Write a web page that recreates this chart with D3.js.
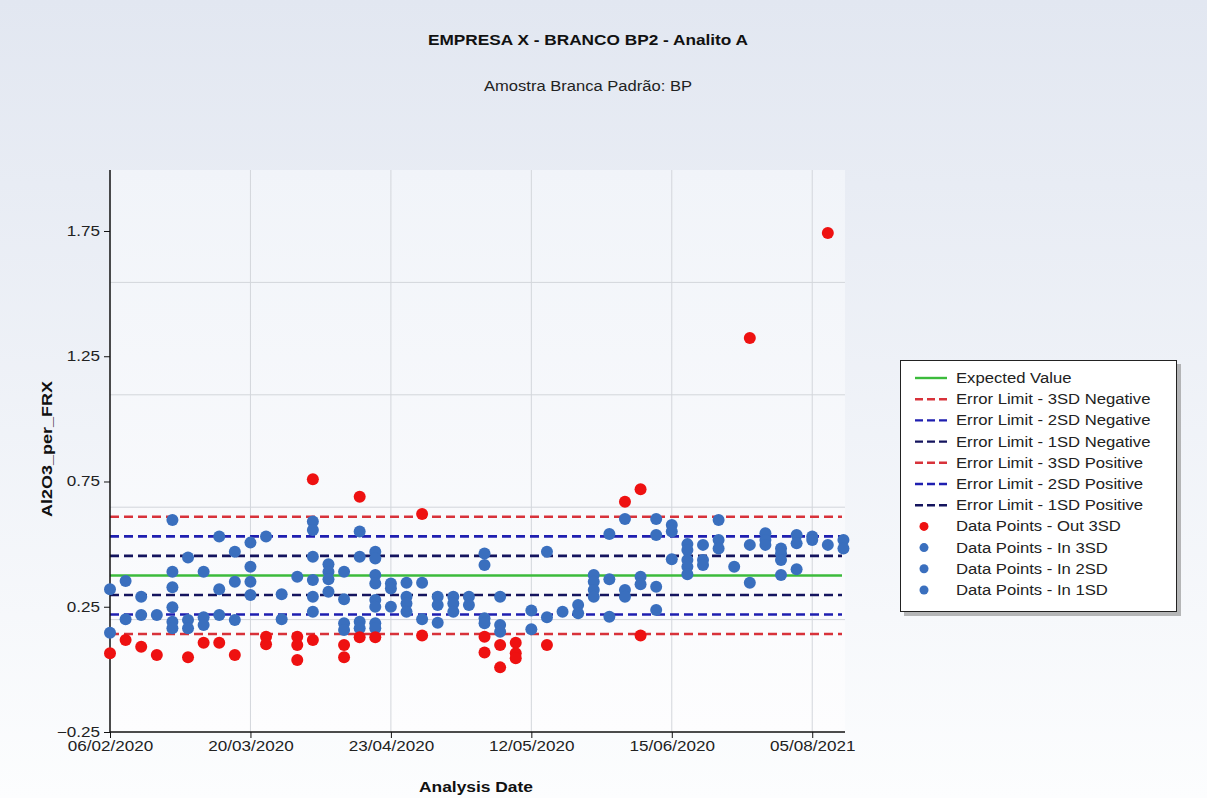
<!DOCTYPE html>
<html><head><meta charset="utf-8">
<script src="https://cdn.jsdelivr.net/npm/d3@7"></script>
<style>html,body{margin:0;padding:0;background:#fff}svg{display:block}</style>
</head><body>
<svg id="c" width="1207" height="798"></svg>
<script>
// ---------- data ----------
const titleText = "EMPRESA X - BRANCO BP2 - Analito A";
const subtitleText = "Amostra Branca Padrão: BP";
const xTitle = "Analysis Date";
const yTitle = "Al2O3_per_FRX";

const tickIndex  = [0, 9, 18, 27, 36, 45];
const tickLabels = ["06/02/2020","20/03/2020","23/04/2020","12/05/2020","15/06/2020","05/08/2021"];
const yTicks = [-0.25, 0.25, 0.75, 1.25, 1.75];

const expectedValue = 0.375;
const limitNames  = ["Error Limit - 3SD Negative","Error Limit - 2SD Negative","Error Limit - 1SD Negative",
                     "Error Limit - 3SD Positive","Error Limit - 2SD Positive","Error Limit - 1SD Positive"];
const limitValues = [0.141, 0.219, 0.297, 0.609, 0.531, 0.453];

// [date index, value] – points outside 3SD
const outPoints = [
 [0,0.064],[1,0.117],[2,0.09],[3,0.057],[5,0.048],[6,0.106],[7,0.106],[8,0.057],
 [10,0.13],[10,0.10],[12,0.13],[12,0.097],[12,0.037],[13,0.759],[13,0.117],
 [15,0.097],[15,0.048],[16,0.689],[16,0.128],[17,0.128],[20,0.62],[20,0.135],
 [24,0.13],[24,0.067],[25,0.097],[25,0.008],[26,0.106],[26,0.064],[26,0.044],
 [28,0.097],[33,0.669],[34,0.719],[34,0.135],[41,1.323],[46,1.742]
];
// [date index, value] – points inside 3SD
const inPoints = [
 [0,0.32],[0,0.146],[1,0.353],[1,0.20],[2,0.29],[2,0.217],[3,0.217],
 [4,0.596],[4,0.39],[4,0.328],[4,0.248],[4,0.19],[4,0.164],
 [5,0.447],[5,0.197],[5,0.164],[6,0.39],[6,0.208],[6,0.177],
 [7,0.53],[7,0.32],[7,0.217],[8,0.47],[8,0.35],[8,0.197],
 [9,0.506],[9,0.41],[9,0.35],[9,0.297],[10,0.53],[11,0.30],[11,0.20],[12,0.37],
 [13,0.59],[13,0.556],[13,0.45],[13,0.357],[13,0.29],[13,0.23],
 [14,0.42],[14,0.39],[14,0.36],[14,0.31],
 [15,0.39],[15,0.28],[15,0.184],[15,0.157],
 [16,0.55],[16,0.45],[16,0.19],[16,0.164],
 [17,0.47],[17,0.443],[17,0.377],[17,0.343],[17,0.277],[17,0.25],[17,0.184],[17,0.164],
 [18,0.343],[18,0.323],[18,0.25],[19,0.346],[19,0.29],[19,0.263],[19,0.23],
 [20,0.346],[20,0.2],[21,0.29],[21,0.257],[21,0.186],[22,0.29],[22,0.263],[22,0.23],
 [23,0.29],[23,0.257],[24,0.463],[24,0.417],[24,0.204],[24,0.184],
 [25,0.29],[25,0.177],[25,0.15],[27,0.235],[27,0.16],[28,0.47],[28,0.208],[29,0.23],
 [30,0.257],[30,0.224],[31,0.377],[31,0.35],[31,0.317],[31,0.29],
 [32,0.54],[32,0.36],[32,0.21],[33,0.60],[33,0.317],[33,0.29],[34,0.37],[34,0.34],
 [35,0.60],[35,0.536],[35,0.33],[35,0.237],[36,0.576],[36,0.55],[36,0.44],
 [37,0.50],[37,0.477],[37,0.437],[37,0.41],[37,0.38],[38,0.497],[38,0.437],[38,0.417],
 [39,0.596],[39,0.516],[39,0.483],[40,0.41],[41,0.497],[41,0.346],
 [42,0.543],[42,0.516],[42,0.497],[43,0.483],[43,0.463],[43,0.437],[43,0.377],
 [44,0.536],[44,0.503],[44,0.40],[45,0.53],[45,0.516],[46,0.497],[47,0.516],[47,0.483]
];

const legendItems = [
 {name:"Expected Value", type:"line", color:"#3cbb3c", dash:null},
 {name:limitNames[0], type:"line", color:"#d8323a", dash:"8,4"},
 {name:limitNames[1], type:"line", color:"#1f1fb0", dash:"8,4"},
 {name:limitNames[2], type:"line", color:"#14145e", dash:"8,4"},
 {name:limitNames[3], type:"line", color:"#d8323a", dash:"8,4"},
 {name:limitNames[4], type:"line", color:"#1f1fb0", dash:"8,4"},
 {name:limitNames[5], type:"line", color:"#14145e", dash:"8,4"},
 {name:"Data Points - Out 3SD", type:"dot", color:"#ee1111"},
 {name:"Data Points - In 3SD", type:"dot", color:"#3a6fbe"},
 {name:"Data Points - In 2SD", type:"dot", color:"#3a6fbe"},
 {name:"Data Points - In 1SD", type:"dot", color:"#3a6fbe"}
];
const limitColors = ["#d8323a","#1f1fb0","#14145e","#d8323a","#1f1fb0","#14145e"];

// ---------- layout ----------
const W = 1207, H = 798;
const L = 110, R = 845, T = 170, B = 732;
const FONT = "'Liberation Sans', Arial, sans-serif";
const svg = d3.select("#c");

const defs = svg.append("defs");
const bg = defs.append("linearGradient").attr("id","bg").attr("x1",0).attr("y1",0).attr("x2",0).attr("y2",1);
bg.append("stop").attr("offset","0").attr("stop-color","#e2e7f1");
bg.append("stop").attr("offset","1").attr("stop-color","#fcfdfe");
const pg = defs.append("linearGradient").attr("id","pg").attr("x1",0).attr("y1",0).attr("x2",0).attr("y2",1);
pg.append("stop").attr("offset","0").attr("stop-color","#f1f4f9");
pg.append("stop").attr("offset","1").attr("stop-color","#fdfdfe");

svg.append("rect").attr("width",W).attr("height",H).attr("fill","url(#bg)");
svg.append("rect").attr("x",L).attr("y",T).attr("width",R-L).attr("height",B-T).attr("fill","url(#pg)");

const x = d3.scaleLinear().domain([0, 47.1]).range([L, R]);
const y = d3.scaleLinear().domain([-0.25, 1.9935]).range([B, T]);

function stretch(sel, k){ sel.each(function(){ const w=this.getComputedTextLength(); d3.select(this).attr("textLength", w*k).attr("lengthAdjust","spacingAndGlyphs"); }); }

// grid
const yd = y.domain(), gstep = (yd[1]-yd[0])/5;
const hGrid = d3.range(1,5).map(i => yd[0] + i*gstep);
svg.append("g").selectAll("line").data(hGrid).join("line")
  .attr("x1",L).attr("x2",R).attr("y1",d=>y(d)).attr("y2",d=>y(d))
  .attr("stroke","#d3d6db").attr("stroke-width",1);
svg.append("g").selectAll("line").data(tickIndex.slice(1)).join("line")
  .attr("x1",d=>x(d)).attr("x2",d=>x(d)).attr("y1",T).attr("y2",B)
  .attr("stroke","#d3d6db").attr("stroke-width",1);

// limit lines
svg.append("g").selectAll("line").data(limitValues).join("line")
  .attr("x1",L).attr("x2",R-3).attr("y1",d=>y(d)).attr("y2",d=>y(d))
  .attr("stroke",(d,i)=>limitColors[i]).attr("stroke-width",2.6).attr("stroke-dasharray","9,5");
svg.append("line").attr("x1",L).attr("x2",R-3).attr("y1",y(expectedValue)).attr("y2",y(expectedValue))
  .attr("stroke","#3cbb3c").attr("stroke-width",2.6);

// axes
const yAxis = svg.append("g").attr("transform",`translate(${L},0)`)
  .call(d3.axisLeft(y).tickValues(yTicks).tickFormat(d3.format(".2f")).tickSize(6).tickPadding(4));
yAxis.select(".domain").attr("d",`M0,${T}V${B}`).attr("stroke","#111").attr("stroke-width",1.5);
yAxis.selectAll(".tick line").attr("stroke","#111");
yAxis.selectAll("text").attr("font-family",FONT).attr("font-size",14).attr("fill","#222").call(stretch,1.22);

const xAxis = svg.append("g").attr("transform",`translate(0,${B})`)
  .call(d3.axisBottom(x).tickValues(tickIndex).tickFormat((d,i)=>tickLabels[i]).tickSize(6).tickPadding(3));
xAxis.select(".domain").attr("d",`M${L},0H${R}`).attr("stroke","#111").attr("stroke-width",1.5);
xAxis.selectAll(".tick line").attr("stroke","#111");
xAxis.selectAll("text").attr("font-family",FONT).attr("font-size",14).attr("fill","#222").call(stretch,1.22);

// points
svg.append("g").selectAll("circle").data(inPoints).join("circle")
  .attr("cx",d=>x(d[0])).attr("cy",d=>y(d[1])).attr("r",6).attr("fill","#3a6fbe");
svg.append("g").selectAll("circle").data(outPoints).join("circle")
  .attr("cx",d=>x(d[0])).attr("cy",d=>y(d[1])).attr("r",6).attr("fill","#ee1111");

// titles
svg.append("text").attr("x",588).attr("y",45).attr("text-anchor","middle")
  .attr("font-family",FONT).attr("font-weight","bold").attr("font-size",14).attr("fill","#111")
  .attr("textLength",320).attr("lengthAdjust","spacingAndGlyphs").text(titleText);
svg.append("text").attr("x",588).attr("y",91).attr("text-anchor","middle")
  .attr("font-family",FONT).attr("font-size",14).attr("fill","#222")
  .attr("textLength",208).attr("lengthAdjust","spacingAndGlyphs").text(subtitleText);
svg.append("text").attr("x",476).attr("y",792).attr("text-anchor","middle")
  .attr("font-family",FONT).attr("font-weight","bold").attr("font-size",14).attr("fill","#111")
  .attr("textLength",114).attr("lengthAdjust","spacingAndGlyphs").text(xTitle);
svg.append("text").attr("transform","translate(52,449) rotate(-90)").attr("text-anchor","middle")
  .attr("font-family",FONT).attr("font-weight","bold").attr("font-size",14).attr("fill","#111")
  .attr("textLength",136).attr("lengthAdjust","spacingAndGlyphs").text(yTitle);

// legend
const lg = svg.append("g");
lg.append("rect").attr("x",904).attr("y",364).attr("width",277).attr("height",252).attr("fill","#9a9a9a").attr("opacity",0.7);
lg.append("rect").attr("x",900.5).attr("y",360.5).attr("width",276).attr("height",251).attr("fill","#fff").attr("stroke","#222").attr("stroke-width",1);
const ly = d3.scaleLinear().domain([0,10]).range([378,590]);
const items = lg.selectAll("g.it").data(legendItems).join("g").attr("class","it")
  .attr("transform",(d,i)=>`translate(0,${ly(i)})`);
items.filter(d=>d.type==="line").append("line").attr("x1",915).attr("x2",947).attr("y1",0).attr("y2",0)
  .attr("stroke",d=>d.color).attr("stroke-width",2.4).attr("stroke-dasharray",d=>d.dash);
items.filter(d=>d.type==="dot").append("circle").attr("cx",924).attr("cy",0).attr("r",4.5).attr("fill",d=>d.color);
items.append("text").attr("x",956).attr("y",5).attr("font-family",FONT).attr("font-size",14).attr("fill","#222")
  .text(d=>d.name).call(stretch,1.19);
</script>
</body></html>
